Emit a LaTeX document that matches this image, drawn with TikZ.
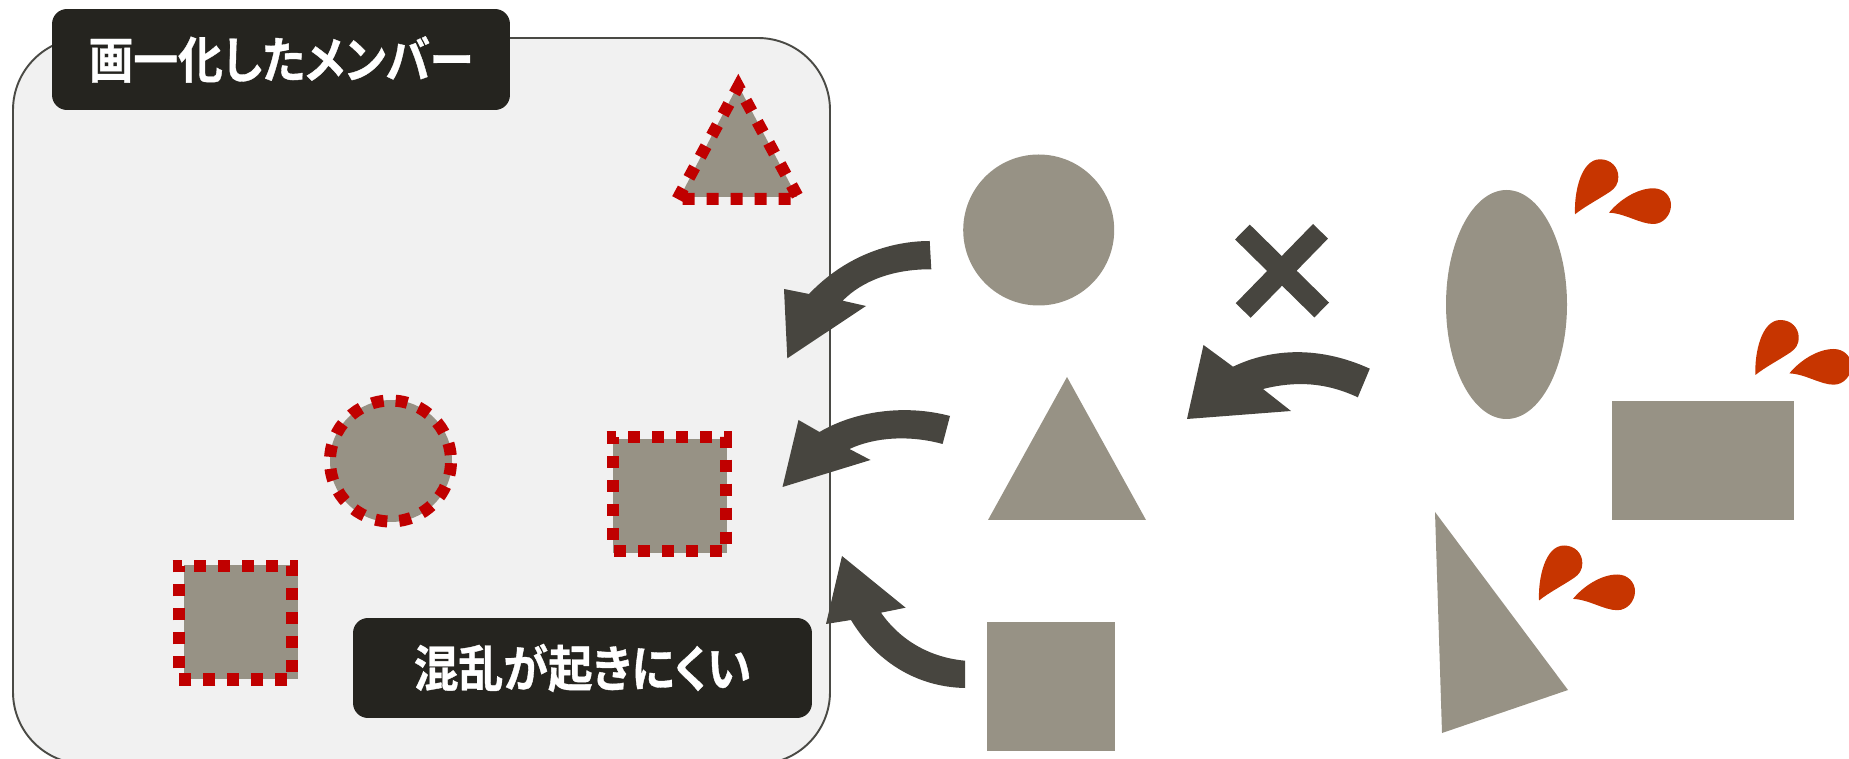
\documentclass[tikz,border=0pt]{standalone}
\usepackage{fontspec}
\newfontfamily\jpfont[BoldFont=* Bold,BoldFeatures={FakeBold=0.7},RawFeature=+palt,FakeStretch=0.9]{Noto Sans CJK JP}
\definecolor{panelbg}{HTML}{F1F1F1}
\definecolor{paneledge}{HTML}{4A4A45}
\definecolor{labeldrk}{HTML}{25241F}
\definecolor{shapegrey}{HTML}{979285}
\definecolor{arrowdrk}{HTML}{47453F}
\definecolor{dashred}{HTML}{C00000}
\definecolor{dropred}{HTML}{C73500}
\tikzstyle{member} = [fill=shapegrey]
\tikzstyle{redline} = [draw=dashred, line width=6.83pt, dash pattern=on 6.83pt off 6.83pt, miter limit=10]
\tikzstyle{bigarrow} = [fill=arrowdrk]
\tikzstyle{tag} = [fill=labeldrk, rounded corners=8.5pt, inner sep=0pt, text=white, font=\jpfont\bfseries\fontsize{28.3}{30}\selectfont]
\newcommand{\drops}[2]{%
	\begin{scope}[shift={(#1,#2)}]
		\fill[dropred] (0,0) .. controls (-1,-22) and (6,-55) .. (25,-55) .. controls (36,-55) and (43.3,-47) .. (43.3,-37.6) .. controls (43.3,-30) and (40,-26) .. (35,-22.6) .. controls (22,-14) and (10,-8) .. (0,0) -- cycle;
		\fill[dropred] (34,-1.6) .. controls (44,-14) and (62,-26) .. (78.3,-26) .. controls (89,-26) and (96,-18) .. (96,-9.3) .. controls (96,1) and (88,9.7) .. (78.3,9.7) .. controls (65,9.7) and (50,-1) .. (34,-1.6) -- cycle;
	\end{scope}}

\begin{document}
\begin{tikzpicture}[x=0.02cm,y=-0.02cm]
	\useasboundingbox (0,0) rectangle (1849,759);
	% The panel:
	\draw[paneledge, fill=panelbg, line width=1.1pt, rounded corners=41pt] (13,38) rectangle (830,764);
	\node[tag, minimum width=9.16cm, minimum height=2.02cm] (unified) at (281,59.5) {画一化したメンバー};
	\node[tag, minimum width=9.18cm, minimum height=2cm] (noconfusion) at (582.5,668) {\raisebox{-1pt}{混乱が起きにくい}};

	% Members in the panel:
	\fill[member] (738,85) -- (797,197) -- (680,197) -- cycle;
	\fill[member] (391,461) circle (61);
	\fill[member] (613,439) rectangle (727,553);
	\fill[member] (184,565) rectangle (298,679);
	\draw[redline] (677.5,199) -- (738.3,86.5) -- (799,199) -- cycle;
	\draw[redline, dash phase=12.4pt] (390.5,461) circle (60.5);
	\draw[redline, dash phase=1.42pt] (606.5,437.5) -- (726,437.5) -- (726,551) -- (612.5,551) -- (612.5,437.5);
	\draw[redline, dash phase=1.42pt] (172.5,566) -- (292,566) -- (292,679.5) -- (178.5,679.5) -- (178.5,566);

	% Arrows into the panel:
	\fill[bigarrow] (929.7,241) .. controls (895,241) and (848,253) .. (809,294) -- (784,289) -- (787.3,358.3) -- (866,306) -- (842.7,300.7) .. controls (862,281) and (893,269) .. (931.3,269.3) -- cycle;
	\fill[bigarrow] (950,416) .. controls (905,404) and (855,411) .. (819.5,432) -- (798.5,420) -- (782.5,487) -- (870.5,460) -- (849.5,449) .. controls (875,437) and (910,435) .. (942.6,444) -- cycle;
	\fill[bigarrow] (965,660.7) .. controls (925,657) and (897,636) .. (881,612.7) -- (905.6,607.7) -- (842,556) -- (826,624) -- (851,620) .. controls (875,660) and (915,687) .. (965,688) -- cycle;
	\fill[bigarrow] (1369.8,368.7) .. controls (1320,346) and (1272,348) .. (1233,366.7) -- (1203.5,345) -- (1187,419) -- (1291,411) -- (1263,389) .. controls (1295,381) and (1325,382) .. (1357.8,397.3) -- cycle;

	% The cross:
	\draw[arrowdrk, line width=11.9pt] (1242.4,232) -- (1321.7,310) (1320.5,231.3) -- (1243.2,310.5);

	% Members outside:
	\fill[member] (1038.7,230) circle (75.5);
	\fill[member] (1067,377) -- (1146,520) -- (988,520) -- cycle;
	\fill[member] (987,622.5) rectangle (1115,751);
	\fill[member] (1506.5,304.5) ellipse (60.5 and 114.5);
	\fill[member] (1612,401) rectangle (1794,520);
	\fill[member] (1435,512) -- (1568,690) -- (1442,733) -- cycle;

	% Drops:
	\drops{1575}{214.3}
	\drops{1755.4}{375}
	\drops{1539}{600.5}
\end{tikzpicture}
\end{document}
